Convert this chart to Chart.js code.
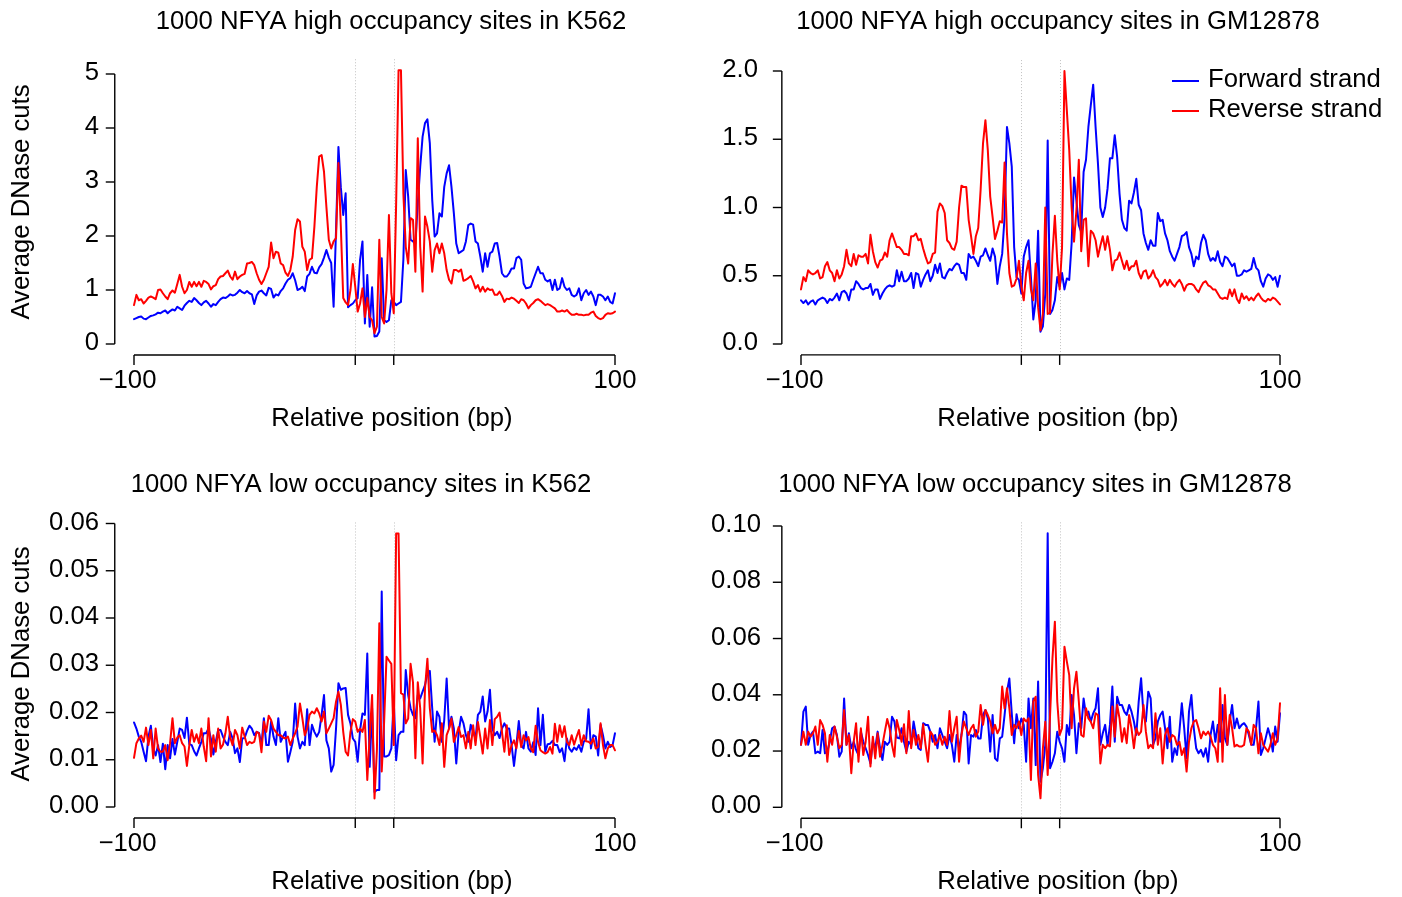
<!DOCTYPE html>
<html>
<head>
<meta charset="utf-8">
<script src="https://cdn.jsdelivr.net/npm/chart.js@4.4.1/dist/chart.umd.min.js"></script>
<style>
  html, body { margin: 0; padding: 0; background: #fff; }
  #wrap { position: relative; width: 1402px; height: 897px; }
  #wrap canvas { position: absolute; left: 0; top: 0; }
</style>
</head>
<body>
<div id="wrap">
  <canvas id="c1" width="1402" height="897"></canvas>
  <canvas id="c2" width="1402" height="897"></canvas>
  <canvas id="c3" width="1402" height="897"></canvas>
  <canvas id="c4" width="1402" height="897"></canvas>
</div>
<script>
/* =====================
   Data
   ===================== */

// relative position in bp, one point per base
const positions = [];
for (let bp = -100; bp <= 100; bp++) positions.push(bp);

const seriesNames = ['Forward strand', 'Reverse strand'];
const titles = [
  '1000 NFYA high occupancy sites in K562',
  '1000 NFYA high occupancy sites in GM12878',
  '1000 NFYA low occupancy sites in K562',
  '1000 NFYA low occupancy sites in GM12878',
];
const xAxisTitle = 'Relative position (bp)';
const yAxisTitle = 'Average DNase cuts';

const xTickValues = [-100, -8, 8, 100];
const xTickLabels = ['\u2212100', '', '', '100'];
const motifEdges = [-8, 8];

const p1YTicks = [0, 1, 2, 3, 4, 5];
const p1YLabels = ['0', '1', '2', '3', '4', '5'];
const p2YTicks = [0, 0.5, 1.0, 1.5, 2.0];
const p2YLabels = ['0.0', '0.5', '1.0', '1.5', '2.0'];
const p3YTicks = [0, 0.01, 0.02, 0.03, 0.04, 0.05, 0.06];
const p3YLabels = ['0.00', '0.01', '0.02', '0.03', '0.04', '0.05', '0.06'];
const p4YTicks = [0, 0.02, 0.04, 0.06, 0.08, 0.10];
const p4YLabels = ['0.00', '0.02', '0.04', '0.06', '0.08', '0.10'];

// high occupancy, K562
const p1Forward = [
  0.46, 0.48, 0.50, 0.51, 0.47, 0.46, 0.49, 0.52, 0.53, 0.55,
  0.58, 0.57, 0.60, 0.62, 0.57, 0.61, 0.64, 0.62, 0.69, 0.66,
  0.63, 0.71, 0.76, 0.80, 0.78, 0.85, 0.81, 0.76, 0.72, 0.77,
  0.80, 0.75, 0.69, 0.74, 0.72, 0.78, 0.83, 0.86, 0.85, 0.88,
  0.92, 0.90, 0.91, 0.95, 1.00, 0.96, 0.94, 0.98, 0.94, 0.92,
  0.74, 0.90, 0.97, 0.99, 0.94, 0.90, 1.04, 1.02, 0.86, 0.92,
  0.90, 0.98, 1.03, 1.12, 1.19, 1.22, 1.31, 1.18, 1.00, 1.02,
  1.06, 0.98, 1.25, 1.30, 1.43, 1.32, 1.31, 1.42, 1.48, 1.60,
  1.74, 1.60, 1.50, 0.69, 2.10, 3.65, 2.90, 2.39, 2.79, 0.68,
  0.72, 0.75, 0.81, 0.85, 1.56, 1.90, 0.38, 1.28, 0.32, 1.05,
  0.14, 0.15, 0.23, 1.59, 0.44, 0.41, 0.44, 0.81, 0.78, 0.72,
  0.75, 0.78, 1.56, 3.22, 2.73, 1.93, 1.90, 1.86, 2.60, 3.28,
  3.84, 4.09, 4.16, 3.72, 2.67, 1.99, 2.05, 2.42, 2.36, 2.91,
  3.16, 3.31, 2.91, 2.42, 1.86, 1.68, 1.71, 1.74, 1.90, 2.20,
  2.23, 2.21, 1.90, 1.86, 1.62, 1.34, 1.68, 1.43, 1.68, 1.71,
  1.86, 1.87, 1.62, 1.31, 1.25, 1.25, 1.31, 1.40, 1.40, 1.59,
  1.62, 1.56, 1.12, 1.03, 1.04, 1.06, 1.19, 1.31, 1.43, 1.31,
  1.31, 1.19, 1.16, 1.19, 1.00, 1.19, 1.00, 1.03, 1.22, 1.06,
  1.00, 1.03, 0.91, 0.88, 0.91, 1.03, 0.81, 0.94, 1.00, 0.91,
  0.97, 0.88, 0.72, 0.91, 0.91, 0.88, 0.81, 0.88, 0.78, 0.75,
  0.94,
];
const p1Reverse = [
  0.72, 0.91, 0.81, 0.83, 0.75, 0.80, 0.86, 0.88, 0.86, 0.83,
  1.00, 1.01, 0.94, 0.88, 0.83, 0.94, 0.99, 0.95, 1.11, 1.28,
  1.06, 0.94, 1.00, 1.15, 1.06, 1.15, 1.07, 1.15, 1.06, 1.17,
  1.15, 1.11, 1.01, 1.07, 1.09, 1.20, 1.25, 1.26, 1.31, 1.36,
  1.25, 1.19, 1.34, 1.20, 1.25, 1.28, 1.30, 1.49, 1.50, 1.52,
  1.46, 1.31, 1.19, 1.11, 1.19, 1.31, 1.43, 1.88, 1.59, 1.71,
  1.69, 1.49, 1.46, 1.32, 1.26, 1.37, 1.62, 2.11, 2.31, 2.27,
  1.80, 1.71, 1.37, 1.56, 1.59, 2.17, 2.91, 3.47, 3.50, 3.19,
  2.54, 1.93, 1.77, 1.90, 1.96, 3.35, 2.17, 0.85, 0.77, 0.72,
  1.00, 1.48, 1.06, 0.60, 0.75, 1.03, 0.50, 0.85, 0.50, 0.44,
  0.20, 0.32, 1.93, 0.50, 0.38, 1.00, 2.39, 0.94, 0.57, 2.60,
  5.07, 5.07, 2.79, 1.80, 1.49, 2.33, 2.30, 1.34, 3.81, 1.80,
  0.97, 2.36, 2.17, 1.90, 1.34, 1.74, 1.86, 1.68, 1.86, 1.68,
  1.37, 1.19, 1.12, 1.37, 1.37, 1.34, 1.38, 1.17, 1.19, 1.22,
  1.26, 1.16, 1.03, 1.09, 0.97, 1.06, 0.97, 1.03, 1.00, 1.01,
  0.91, 0.91, 0.97, 0.89, 0.78, 0.84, 0.83, 0.86, 0.84, 0.80,
  0.76, 0.83, 0.81, 0.75, 0.66, 0.72, 0.76, 0.81, 0.83, 0.80,
  0.76, 0.72, 0.74, 0.72, 0.69, 0.66, 0.60, 0.60, 0.62, 0.60,
  0.63, 0.58, 0.54, 0.54, 0.56, 0.54, 0.54, 0.53, 0.54, 0.54,
  0.58, 0.60, 0.52, 0.48, 0.46, 0.48, 0.54, 0.57, 0.56, 0.57,
  0.60,
];

// high occupancy, GM12878
const p2Forward = [
  0.32, 0.30, 0.32, 0.29, 0.31, 0.32, 0.29, 0.32, 0.33, 0.34,
  0.33, 0.30, 0.33, 0.32, 0.34, 0.37, 0.32, 0.38, 0.39, 0.37,
  0.32, 0.40, 0.40, 0.46, 0.44, 0.41, 0.40, 0.41, 0.41, 0.44,
  0.36, 0.40, 0.40, 0.33, 0.37, 0.40, 0.42, 0.43, 0.42, 0.43,
  0.54, 0.46, 0.53, 0.46, 0.46, 0.48, 0.52, 0.41, 0.52, 0.51,
  0.42, 0.47, 0.51, 0.54, 0.46, 0.50, 0.58, 0.52, 0.59, 0.49,
  0.48, 0.52, 0.55, 0.54, 0.57, 0.59, 0.58, 0.52, 0.52, 0.47,
  0.66, 0.63, 0.64, 0.61, 0.57, 0.64, 0.65, 0.70, 0.65, 0.61,
  0.70, 0.64, 0.44, 0.57, 0.66, 0.93, 1.59, 1.47, 1.30, 0.71,
  0.49, 0.47, 0.37, 0.64, 0.71, 0.76, 0.49, 0.18, 0.32, 0.83,
  0.09, 0.13, 0.37, 1.49, 0.22, 0.25, 0.32, 0.49, 0.42, 0.52,
  0.40, 0.48, 0.47, 0.74, 1.22, 1.05, 0.87, 0.82, 1.26, 1.35,
  1.59, 1.75, 1.90, 1.59, 1.32, 1.00, 0.93, 1.00, 1.14, 1.36,
  1.36, 1.53, 1.37, 1.10, 0.91, 0.85, 0.83, 1.05, 1.03, 1.11,
  1.21, 1.02, 0.98, 0.81, 0.74, 0.69, 0.76, 0.72, 0.72, 0.96,
  0.90, 0.91, 0.81, 0.76, 0.68, 0.64, 0.61, 0.66, 0.71, 0.79,
  0.80, 0.82, 0.71, 0.66, 0.57, 0.64, 0.62, 0.74, 0.80, 0.76,
  0.66, 0.61, 0.63, 0.61, 0.68, 0.60, 0.57, 0.64, 0.63, 0.60,
  0.57, 0.59, 0.50, 0.50, 0.51, 0.54, 0.53, 0.54, 0.55, 0.63,
  0.56, 0.54, 0.46, 0.42, 0.48, 0.51, 0.50, 0.47, 0.49, 0.42,
  0.50,
];
const p2Reverse = [
  0.40, 0.49, 0.46, 0.54, 0.52, 0.51, 0.52, 0.54, 0.48, 0.49,
  0.57, 0.60, 0.54, 0.52, 0.46, 0.54, 0.48, 0.51, 0.57, 0.69,
  0.59, 0.57, 0.66, 0.58, 0.65, 0.64, 0.64, 0.66, 0.59, 0.80,
  0.68, 0.60, 0.56, 0.61, 0.62, 0.67, 0.64, 0.76, 0.81, 0.76,
  0.71, 0.71, 0.69, 0.66, 0.66, 0.65, 0.79, 0.79, 0.81, 0.76,
  0.77, 0.70, 0.64, 0.59, 0.60, 0.66, 0.67, 0.97, 1.03, 1.01,
  0.96, 0.76, 0.74, 0.70, 0.69, 0.75, 1.00, 1.16, 1.15, 1.15,
  0.91, 0.79, 0.66, 0.79, 0.85, 1.13, 1.47, 1.64, 1.42, 1.08,
  0.93, 0.77, 0.83, 0.90, 0.89, 1.33, 0.81, 0.52, 0.42, 0.43,
  0.48, 0.61, 0.42, 0.32, 0.52, 0.61, 0.40, 0.32, 0.59, 0.27,
  0.10, 0.22, 1.00, 0.22, 0.23, 0.66, 0.94, 0.61, 0.40, 0.71,
  2.00, 1.71, 1.42, 1.00, 0.75, 0.98, 1.35, 0.68, 0.91, 0.92,
  0.57, 0.83, 0.81, 0.76, 0.64, 0.72, 0.79, 0.69, 0.79, 0.69,
  0.54, 0.61, 0.62, 0.67, 0.61, 0.55, 0.61, 0.54, 0.57, 0.57,
  0.61, 0.52, 0.48, 0.53, 0.54, 0.48, 0.50, 0.54, 0.49, 0.47,
  0.42, 0.44, 0.47, 0.43, 0.47, 0.44, 0.42, 0.45, 0.47, 0.44,
  0.39, 0.43, 0.44, 0.44, 0.43, 0.40, 0.38, 0.42, 0.45, 0.46,
  0.43, 0.42, 0.40, 0.40, 0.37, 0.34, 0.33, 0.34, 0.33, 0.40,
  0.35, 0.40, 0.33, 0.30, 0.37, 0.33, 0.35, 0.32, 0.34, 0.32,
  0.35, 0.37, 0.34, 0.32, 0.31, 0.33, 0.32, 0.34, 0.33, 0.31,
  0.29,
];

// low occupancy, K562
const p3Forward = [
  0.0179, 0.0166, 0.0149, 0.0138, 0.0117, 0.0097, 0.0149, 0.0172, 0.0124, 0.0109,
  0.0131, 0.0095, 0.0134, 0.0080, 0.0131, 0.0103, 0.0144, 0.0111, 0.0138, 0.0166,
  0.0163, 0.0146, 0.0189, 0.0133, 0.0131, 0.0118, 0.0109, 0.0124, 0.0138, 0.0156,
  0.0156, 0.0166, 0.0144, 0.0111, 0.0138, 0.0163, 0.0163, 0.0149, 0.0138, 0.0131,
  0.0159, 0.0145, 0.0114, 0.0124, 0.0095, 0.0145, 0.0146, 0.0161, 0.0172, 0.0166,
  0.0152, 0.0159, 0.0157, 0.0131, 0.0188, 0.0131, 0.0131, 0.0181, 0.0149, 0.0131,
  0.0188, 0.0138, 0.0149, 0.0159, 0.0096, 0.0116, 0.0138, 0.0219, 0.0149, 0.0124,
  0.0138, 0.0131, 0.0207, 0.0131, 0.0174, 0.0159, 0.0149, 0.0159, 0.0195, 0.0237,
  0.0141, 0.0124, 0.0075, 0.0089, 0.0166, 0.0262, 0.0248, 0.0251, 0.0252, 0.0195,
  0.0177, 0.0145, 0.0138, 0.0096, 0.0163, 0.0198, 0.0195, 0.0325, 0.0085, 0.0209,
  0.0032, 0.0036, 0.0036, 0.0456, 0.0107, 0.0107, 0.0110, 0.0124, 0.0226, 0.0099,
  0.0152, 0.0159, 0.0159, 0.0290, 0.0237, 0.0209, 0.0195, 0.0188, 0.0237, 0.0230,
  0.0244, 0.0258, 0.0283, 0.0288, 0.0209, 0.0138, 0.0202, 0.0191, 0.0138, 0.0184,
  0.0272, 0.0166, 0.0191, 0.0166, 0.0092, 0.0159, 0.0191, 0.0177, 0.0152, 0.0138,
  0.0174, 0.0159, 0.0145, 0.0195, 0.0202, 0.0234, 0.0181, 0.0202, 0.0248, 0.0166,
  0.0152, 0.0159, 0.0146, 0.0166, 0.0177, 0.0166, 0.0166, 0.0131, 0.0087, 0.0131,
  0.0182, 0.0131, 0.0124, 0.0159, 0.0124, 0.0117, 0.0137, 0.0110, 0.0209, 0.0131,
  0.0195, 0.0117, 0.0133, 0.0134, 0.0140, 0.0131, 0.0131, 0.0116, 0.0124, 0.0097,
  0.0145, 0.0124, 0.0117, 0.0126, 0.0121, 0.0131, 0.0117, 0.0138, 0.0144, 0.0207,
  0.0124, 0.0152, 0.0149, 0.0109, 0.0174, 0.0152, 0.0124, 0.0138, 0.0127, 0.0131,
  0.0156,
];
const p3Reverse = [
  0.0104, 0.0135, 0.0145, 0.0151, 0.0138, 0.0168, 0.0131, 0.0163, 0.0103, 0.0166,
  0.0124, 0.0117, 0.0117, 0.0131, 0.0099, 0.0135, 0.0188, 0.0135, 0.0147, 0.0152,
  0.0135, 0.0128, 0.0087, 0.0131, 0.0163, 0.0138, 0.0154, 0.0135, 0.0166, 0.0128,
  0.0097, 0.0188, 0.0107, 0.0152, 0.0117, 0.0166, 0.0124, 0.0132, 0.0156, 0.0191,
  0.0147, 0.0131, 0.0163, 0.0152, 0.0124, 0.0168, 0.0149, 0.0131, 0.0138, 0.0135,
  0.0138, 0.0159, 0.0156, 0.0116, 0.0181, 0.0159, 0.0193, 0.0184, 0.0166, 0.0159,
  0.0152, 0.0152, 0.0147, 0.0145, 0.0149, 0.0131, 0.0145, 0.0156, 0.0170, 0.0219,
  0.0188, 0.0152, 0.0166, 0.0195, 0.0202, 0.0198, 0.0209, 0.0198, 0.0181, 0.0202,
  0.0156, 0.0166, 0.0177, 0.0188, 0.0223, 0.0244, 0.0216, 0.0159, 0.0117, 0.0109,
  0.0159, 0.0186, 0.0181, 0.0159, 0.0166, 0.0159, 0.0184, 0.0057, 0.0150, 0.0237,
  0.0018, 0.0120, 0.0389, 0.0075, 0.0180, 0.0318, 0.0310, 0.0303, 0.0131, 0.0579,
  0.0579, 0.0241, 0.0238, 0.0177, 0.0187, 0.0303, 0.0264, 0.0103, 0.0264, 0.0209,
  0.0092, 0.0251, 0.0314, 0.0209, 0.0159, 0.0162, 0.0152, 0.0131, 0.0177, 0.0085,
  0.0152, 0.0166, 0.0187, 0.0138, 0.0152, 0.0169, 0.0148, 0.0152, 0.0124, 0.0159,
  0.0124, 0.0173, 0.0131, 0.0180, 0.0148, 0.0113, 0.0166, 0.0124, 0.0184, 0.0131,
  0.0186, 0.0191, 0.0200, 0.0159, 0.0117, 0.0173, 0.0110, 0.0131, 0.0141, 0.0124,
  0.0161, 0.0127, 0.0152, 0.0141, 0.0148, 0.0124, 0.0116, 0.0172, 0.0138, 0.0120,
  0.0116, 0.0113, 0.0116, 0.0127, 0.0113, 0.0176, 0.0138, 0.0173, 0.0148, 0.0171,
  0.0138, 0.0131, 0.0152, 0.0132, 0.0148, 0.0163, 0.0131, 0.0152, 0.0139, 0.0138,
  0.0134, 0.0145, 0.0124, 0.0127, 0.0177, 0.0131, 0.0103, 0.0124, 0.0131, 0.0131,
  0.0120,
];

// low occupancy, GM12878
const p4Forward = [
  0.0222, 0.0340, 0.0358, 0.0222, 0.0257, 0.0269, 0.0192, 0.0198, 0.0192, 0.0275,
  0.0192, 0.0198, 0.0233, 0.0281, 0.0287, 0.0257, 0.0180, 0.0198, 0.0387, 0.0222,
  0.0263, 0.0210, 0.0233, 0.0204, 0.0186, 0.0269, 0.0233, 0.0210, 0.0186, 0.0156,
  0.0233, 0.0210, 0.0269, 0.0210, 0.0168, 0.0233, 0.0222, 0.0233, 0.0322, 0.0305,
  0.0248, 0.0245, 0.0281, 0.0233, 0.0198, 0.0233, 0.0222, 0.0305, 0.0257, 0.0210,
  0.0204, 0.0299, 0.0293, 0.0293, 0.0269, 0.0233, 0.0257, 0.0210, 0.0281, 0.0257,
  0.0233, 0.0210, 0.0257, 0.0222, 0.0162, 0.0257, 0.0210, 0.0257, 0.0340, 0.0328,
  0.0156, 0.0257, 0.0251, 0.0275, 0.0245, 0.0245, 0.0328, 0.0346, 0.0316, 0.0198,
  0.0328, 0.0174, 0.0165, 0.0245, 0.0251, 0.0328, 0.0411, 0.0458, 0.0334, 0.0228,
  0.0331, 0.0281, 0.0316, 0.0293, 0.0162, 0.0387, 0.0281, 0.0387, 0.0150, 0.0447,
  0.0091, 0.0139, 0.0222, 0.0974, 0.0139, 0.0162, 0.0192, 0.0269, 0.0233, 0.0210,
  0.0162, 0.0293, 0.0257, 0.0399, 0.0328, 0.0192, 0.0299, 0.0281, 0.0387, 0.0328,
  0.0340, 0.0305, 0.0334, 0.0352, 0.0423, 0.0222, 0.0263, 0.0293, 0.0222, 0.0293,
  0.0429, 0.0233, 0.0393, 0.0364, 0.0364, 0.0340, 0.0328, 0.0364, 0.0340, 0.0305,
  0.0257, 0.0376, 0.0459, 0.0328, 0.0305, 0.0411, 0.0387, 0.0222, 0.0245, 0.0305,
  0.0328, 0.0340, 0.0281, 0.0210, 0.0322, 0.0162, 0.0210, 0.0186, 0.0269, 0.0370,
  0.0281, 0.0174, 0.0340, 0.0399, 0.0281, 0.0210, 0.0192, 0.0204, 0.0180, 0.0210,
  0.0162, 0.0257, 0.0305, 0.0233, 0.0293, 0.0233, 0.0364, 0.0245, 0.0222, 0.0305,
  0.0364, 0.0281, 0.0316, 0.0281, 0.0293, 0.0299, 0.0287, 0.0257, 0.0222, 0.0222,
  0.0281, 0.0376, 0.0186, 0.0210, 0.0245, 0.0281, 0.0251, 0.0198, 0.0287, 0.0233,
  0.0334,
];
const p4Reverse = [
  0.0222, 0.0269, 0.0222, 0.0269, 0.0251, 0.0263, 0.0287, 0.0222, 0.0310, 0.0293,
  0.0263, 0.0162, 0.0257, 0.0222, 0.0287, 0.0251, 0.0210, 0.0222, 0.0346, 0.0222,
  0.0257, 0.0121, 0.0233, 0.0299, 0.0162, 0.0281, 0.0186, 0.0233, 0.0322, 0.0145,
  0.0251, 0.0174, 0.0263, 0.0180, 0.0222, 0.0269, 0.0314, 0.0281, 0.0222, 0.0180,
  0.0310, 0.0275, 0.0233, 0.0295, 0.0192, 0.0342, 0.0210, 0.0275, 0.0222, 0.0257,
  0.0210, 0.0295, 0.0222, 0.0162, 0.0269, 0.0257, 0.0222, 0.0233, 0.0257, 0.0222,
  0.0251, 0.0222, 0.0342, 0.0233, 0.0281, 0.0322, 0.0162, 0.0257, 0.0305, 0.0281,
  0.0257, 0.0281, 0.0293, 0.0251, 0.0269, 0.0364, 0.0293, 0.0346, 0.0328, 0.0305,
  0.0263, 0.0293, 0.0263, 0.0281, 0.0429, 0.0352, 0.0423, 0.0352, 0.0257, 0.0293,
  0.0281, 0.0305, 0.0257, 0.0316, 0.0305, 0.0316, 0.0097, 0.0376, 0.0393, 0.0115,
  0.0032, 0.0210, 0.0304, 0.0115, 0.0328, 0.0530, 0.0660, 0.0376, 0.0257, 0.0281,
  0.0571, 0.0518, 0.0470, 0.0281, 0.0423, 0.0482, 0.0376, 0.0257, 0.0251, 0.0352,
  0.0316, 0.0304, 0.0281, 0.0334, 0.0328, 0.0156, 0.0222, 0.0210, 0.0222, 0.0216,
  0.0358, 0.0251, 0.0364, 0.0316, 0.0233, 0.0281, 0.0228, 0.0328, 0.0281, 0.0210,
  0.0281, 0.0257, 0.0269, 0.0364, 0.0269, 0.0210, 0.0222, 0.0210, 0.0334, 0.0222,
  0.0281, 0.0156, 0.0257, 0.0281, 0.0233, 0.0257, 0.0251, 0.0222, 0.0233, 0.0186,
  0.0210, 0.0127, 0.0233, 0.0281, 0.0305, 0.0310, 0.0281, 0.0245, 0.0269, 0.0257,
  0.0269, 0.0251, 0.0222, 0.0210, 0.0162, 0.0423, 0.0162, 0.0399, 0.0222, 0.0328,
  0.0281, 0.0216, 0.0222, 0.0216, 0.0216, 0.0222, 0.0281, 0.0269, 0.0222, 0.0293,
  0.0281, 0.0192, 0.0263, 0.0222, 0.0210, 0.0198, 0.0222, 0.0263, 0.0222, 0.0245,
  0.0370,
];

/* =====================
   Layout
   ===================== */

const W = 1402, H = 897;
const FONT = '25.7px "Liberation Sans", Arial, sans-serif';
const BLUE = '#0000ff';
const RED = '#ff0000';
const X_LABEL_SHIFT = [-6.5, 0, 0, 0]; // the "−100" label sits a little left of its tick

// area = pixel box spanned by x -100..100 and the first..last y tick
const panels = [
  { canvas: 'c1', title: titles[0], fwd: p1Forward, rev: p1Reverse, yTicks: p1YTicks, yLabels: p1YLabels,
    area: { left: 134, right: 615, top: 74, bottom: 344 }, titleX: 391, titleY: 29,
    xTitleX: 392, xTitleY: 426, yLabelRight: 99, yTitle: 202, legend: false },
  { canvas: 'c2', title: titles[1], fwd: p2Forward, rev: p2Reverse, yTicks: p2YTicks, yLabels: p2YLabels,
    area: { left: 801, right: 1280, top: 71, bottom: 344 }, titleX: 1058, titleY: 29,
    xTitleX: 1058, xTitleY: 426, yLabelRight: 758, yTitle: null, legend: true },
  { canvas: 'c3', title: titles[2], fwd: p3Forward, rev: p3Reverse, yTicks: p3YTicks, yLabels: p3YLabels,
    area: { left: 134, right: 615, top: 523.5, bottom: 807 }, titleX: 361, titleY: 492,
    xTitleX: 392, xTitleY: 889, yLabelRight: 99, yTitle: 664, legend: false },
  { canvas: 'c4', title: titles[3], fwd: p4Forward, rev: p4Reverse, yTicks: p4YTicks, yLabels: p4YLabels,
    area: { left: 801, right: 1280, top: 526, bottom: 807.3 }, titleX: 1035, titleY: 492,
    xTitleX: 1058, xTitleY: 889, yLabelRight: 761, yTitle: null, legend: false },
];

function toPoints(values) {
  return positions.map((bp, i) => ({ x: bp, y: values[i] }));
}

function strokeLine(ctx, x1, y1, x2, y2) {
  ctx.beginPath();
  ctx.moveTo(x1, y1);
  ctx.lineTo(x2, y2);
  ctx.stroke();
}

// R-style detached axes, motif edge guides, titles and legend
function makeAxesPlugin(p) {
  const dataMax = Math.max(...p.fwd, ...p.rev);
  return {
    id: 'rAxes',
    beforeDatasetsDraw(chart) {
      const { ctx, scales: { x, y } } = chart;
      const top = y.getPixelForValue(dataMax * 1.04);
      const bottom = y.getPixelForValue(-dataMax * 0.04);
      ctx.save();
      ctx.strokeStyle = '#c0c0c0';
      ctx.lineWidth = 1;
      ctx.setLineDash([1, 2]);
      motifEdges.forEach(v => {
        const px = Math.round(x.getPixelForValue(v)) + 0.5;
        strokeLine(ctx, px, top, px, bottom);
      });
      ctx.restore();
    },
    afterDraw(chart) {
      const { ctx, scales: { x, y } } = chart;
      const axisX = x.getPixelForValue(-108);
      const axisY = y.getPixelForValue(-dataMax * 0.04);
      ctx.save();
      ctx.strokeStyle = '#000';
      ctx.fillStyle = '#000';
      ctx.lineWidth = 1.4;
      ctx.font = FONT;

      // y axis
      const yFirst = y.getPixelForValue(p.yTicks[0]);
      const yLast = y.getPixelForValue(p.yTicks[p.yTicks.length - 1]);
      strokeLine(ctx, axisX, yFirst, axisX, yLast);
      ctx.textAlign = 'right';
      ctx.textBaseline = 'alphabetic';
      p.yTicks.forEach((v, i) => {
        const py = y.getPixelForValue(v);
        strokeLine(ctx, axisX - 9, py, axisX, py);
        ctx.fillText(p.yLabels[i], p.yLabelRight, py + 6);
      });

      // x axis
      strokeLine(ctx, x.getPixelForValue(-100), axisY, x.getPixelForValue(100), axisY);
      ctx.textAlign = 'center';
      xTickValues.forEach((v, i) => {
        const px = x.getPixelForValue(v);
        strokeLine(ctx, px, axisY, px, axisY + 10);
        if (xTickLabels[i]) ctx.fillText(xTickLabels[i], px + X_LABEL_SHIFT[i], axisY + 33);
      });

      // titles
      ctx.fillText(p.title, p.titleX, p.titleY);
      ctx.fillText(xAxisTitle, p.xTitleX, p.xTitleY);
      if (p.yTitle !== null) {
        ctx.save();
        ctx.translate(29, p.yTitle);
        ctx.rotate(-Math.PI / 2);
        ctx.fillText(yAxisTitle, 0, 0);
        ctx.restore();
      }

      // legend
      if (p.legend) {
        ctx.textAlign = 'left';
        ctx.lineWidth = 2;
        chart.data.datasets.forEach((ds, i) => {
          const ly = 81 + i * 30;
          ctx.strokeStyle = ds.borderColor;
          strokeLine(ctx, 1172, ly, 1199, ly);
          ctx.fillText(ds.label, 1208, ly + 6);
        });
      }
      ctx.restore();
    },
  };
}

panels.forEach(p => {
  const yMax = p.yTicks[p.yTicks.length - 1];
  new Chart(document.getElementById(p.canvas), {
    type: 'line',
    data: {
      datasets: [
        { label: seriesNames[0], data: toPoints(p.fwd), borderColor: BLUE, borderWidth: 2,
          pointRadius: 0, tension: 0, clip: false, order: 2,
          borderJoinStyle: 'round', borderCapStyle: 'round' },
        { label: seriesNames[1], data: toPoints(p.rev), borderColor: RED, borderWidth: 2,
          pointRadius: 0, tension: 0, clip: false, order: 1,
          borderJoinStyle: 'round', borderCapStyle: 'round' },
      ],
    },
    options: {
      responsive: false,
      animation: false,
      devicePixelRatio: 1,
      events: [],
      layout: {
        padding: { left: p.area.left, right: W - p.area.right, top: p.area.top, bottom: H - p.area.bottom },
      },
      scales: {
        x: { type: 'linear', min: -100, max: 100, display: false },
        y: { type: 'linear', min: 0, max: yMax, display: false },
      },
      plugins: { legend: { display: false }, tooltip: { enabled: false } },
    },
    plugins: [makeAxesPlugin(p)],
  });
});
</script>
</body>
</html>
